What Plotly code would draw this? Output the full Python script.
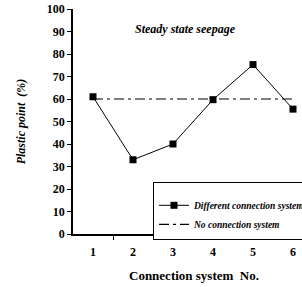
import plotly.graph_objects as go

categories = [1, 2, 3, 4, 5, 6]
different_systems = [61, 33, 40, 59.7, 75.3, 55.5]
no_system = [60, 60, 60, 60, 60, 60]
y_ticks = [0, 10, 20, 30, 40, 50, 60, 70, 80, 90, 100]

W, H = 302, 287
L, R, T, B = 73, 0, 9, 53
pw = W - L - R
ph = H - T - B

fig = go.Figure()
fig.add_trace(go.Scatter(
    x=categories, y=different_systems, mode="lines+markers",
    name="Different connection systems",
    line=dict(color="black", width=1),
    marker=dict(symbol="square", size=7, color="black"),
))
fig.add_trace(go.Scatter(
    x=categories, y=no_system, mode="lines",
    name="No connection system",
    line=dict(color="black", width=1.2, dash="10px,4px,3px,4px"),
))

font_serif = "Liberation Serif, Times New Roman, serif"

fig.update_layout(
    width=W, height=H,
    margin=dict(l=L, r=R, t=T, b=B, autoexpand=False),
    plot_bgcolor="white", paper_bgcolor="white",
    font=dict(family=font_serif, color="black", size=12),
    showlegend=True,
    legend=dict(
        x=(153 - L) / pw, y=(234 - 182) / ph,
        xanchor="left", yanchor="top",
        bgcolor="white", bordercolor="black", borderwidth=1,
        font=dict(family=font_serif, size=9.5, style="italic", weight="bold"),
        itemwidth=30,
        title=dict(text=" ", font=dict(size=6)),
    ),
    xaxis=dict(
        range=[0.5, 0.5 + pw / 40.0],
        tickmode="array", tickvals=categories,
        ticktext=[str(c) for c in categories],
        ticks="", ticklabelstandoff=6,
        tickfont=dict(family=font_serif, size=12, weight="bold"),
        showline=True, linecolor="black", linewidth=1.5,
        showgrid=False, zeroline=False,
        minor=dict(tickmode="array", tickvals=[1.5, 2.5, 3.5, 4.5, 5.5, 6.5],
                   ticks="outside", ticklen=4, tickcolor="black", tickwidth=1),
    ),
    yaxis=dict(
        range=[0, 100], tickmode="array", tickvals=y_ticks,
        ticks="outside", ticklen=4, tickcolor="black", tickwidth=1,
        tickfont=dict(family=font_serif, size=12, weight="bold"),
        showline=True, linecolor="black", linewidth=1.5,
        showgrid=False, zeroline=False,
        title=dict(text="Plastic point  (%)", standoff=19,
                   font=dict(family=font_serif, size=12, style="italic", weight="bold")),
    ),
    annotations=[
        dict(text="Steady state seepage", xref="paper", yref="paper",
             x=(185 - L) / pw, y=(234 - 29) / ph, xanchor="center", yanchor="middle",
             showarrow=False,
             font=dict(family=font_serif, size=12, style="italic", weight="bold")),
        dict(text="Connection system  No.", xref="paper", yref="paper",
             x=(193.5 - L) / pw, y=-(275 - 234) / ph, xanchor="center", yanchor="middle",
             showarrow=False,
             font=dict(family=font_serif, size=13, weight="bold")),
    ],
)

fig.write_html("out.html", config={"displayModeBar": False},
               post_script="document.body.style.margin='0';")
